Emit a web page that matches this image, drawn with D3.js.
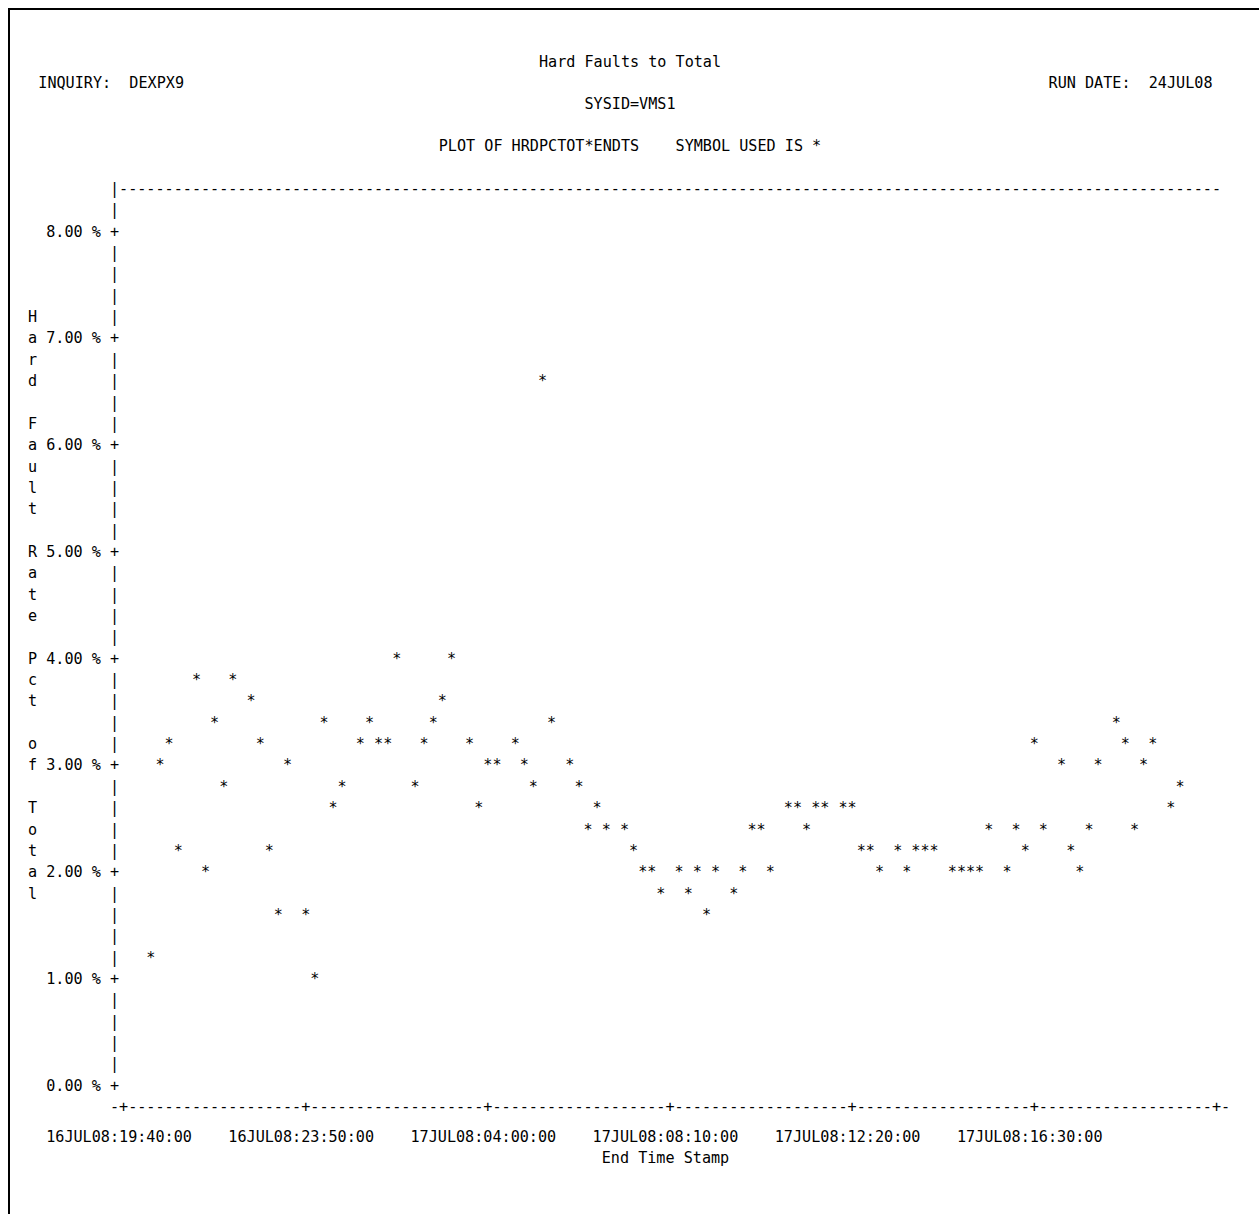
<!DOCTYPE html>
<html><head><meta charset="utf-8">
<script src="https://cdn.jsdelivr.net/npm/d3@7"></script>
<style>
body{margin:0;background:#fff}
text{font-family:"DejaVu Sans Mono",monospace;font-size:15.13px;fill:#000}
</style>
</head><body>
<svg id="c" width="1259" height="1214"></svg>
<script>
// ---- text ----
const chartTitle = "Hard Faults to Total";
const inquiryText = "INQUIRY:  DEXPX9";
const runDateText = "RUN DATE:  24JUL08";
const sysidText = "SYSID=VMS1";
const plotText = "PLOT OF HRDPCTOT*ENDTS    SYMBOL USED IS *";
const yAxisTitle = "Hard Fault Rate Pct of Total";
const xAxisTitle = "End Time Stamp";
const plotSymbol = "*";

// ---- axes ----
const xTickLabels = ["16JUL08:19:40:00","16JUL08:23:50:00","17JUL08:04:00:00","17JUL08:08:10:00","17JUL08:12:20:00","17JUL08:16:30:00"];
const xAxisEnd = "17JUL08:20:40:00";
const yTickValues = [0,1,2,3,4,5,6,7,8];
const yTickLabels = ["0.00 %","1.00 %","2.00 %","3.00 %","4.00 %","5.00 %","6.00 %","7.00 %","8.00 %"];

// ---- data: HRDPCTOT by ENDTS ----
const endTimes = [
"16JUL08:20:17:30","16JUL08:20:30:00","16JUL08:20:42:30","16JUL08:20:55:00","16JUL08:21:20:00",
"16JUL08:21:32:30","16JUL08:21:45:00","16JUL08:21:57:30","16JUL08:22:10:00","16JUL08:22:35:00",
"16JUL08:22:47:30","16JUL08:23:00:00","16JUL08:23:12:30","16JUL08:23:25:00","16JUL08:23:50:00",
"17JUL08:00:02:30","17JUL08:00:15:00","17JUL08:00:27:30","17JUL08:00:40:00","17JUL08:01:05:00",
"17JUL08:01:17:30","17JUL08:01:30:00","17JUL08:01:42:30","17JUL08:01:55:00","17JUL08:02:20:00",
"17JUL08:02:32:30","17JUL08:02:45:00","17JUL08:02:57:30","17JUL08:03:10:00","17JUL08:03:35:00",
"17JUL08:03:47:30","17JUL08:04:00:00","17JUL08:04:12:30","17JUL08:04:37:30","17JUL08:04:50:00",
"17JUL08:05:02:30","17JUL08:05:15:00","17JUL08:05:27:30","17JUL08:05:52:30","17JUL08:06:05:00",
"17JUL08:06:17:30","17JUL08:06:30:00","17JUL08:06:42:30","17JUL08:07:07:30","17JUL08:07:20:00",
"17JUL08:07:32:30","17JUL08:07:45:00","17JUL08:07:57:30","17JUL08:08:22:30","17JUL08:08:35:00",
"17JUL08:08:47:30","17JUL08:09:00:00","17JUL08:09:12:30","17JUL08:09:37:30","17JUL08:09:50:00",
"17JUL08:10:02:30","17JUL08:10:15:00","17JUL08:10:27:30","17JUL08:10:52:30","17JUL08:11:05:00",
"17JUL08:11:17:30","17JUL08:11:30:00","17JUL08:11:42:30","17JUL08:12:07:30","17JUL08:12:20:00",
"17JUL08:12:32:30","17JUL08:12:45:00","17JUL08:12:57:30","17JUL08:13:22:30","17JUL08:13:35:00",
"17JUL08:13:47:30","17JUL08:14:00:00","17JUL08:14:12:30","17JUL08:14:37:30","17JUL08:14:50:00",
"17JUL08:15:02:30","17JUL08:15:15:00","17JUL08:15:27:30","17JUL08:15:52:30","17JUL08:16:05:00",
"17JUL08:16:17:30","17JUL08:16:30:00","17JUL08:16:42:30","17JUL08:17:07:30","17JUL08:17:20:00",
"17JUL08:17:32:30","17JUL08:17:45:00","17JUL08:17:57:30","17JUL08:18:22:30","17JUL08:18:35:00",
"17JUL08:18:47:30","17JUL08:19:00:00","17JUL08:19:12:30","17JUL08:19:37:30","17JUL08:19:50:00"
];
const hardPct = [
1.2,3.0,3.2,2.2,3.8, 2.0,3.4,2.8,3.8,3.6, 3.2,2.2,1.6,3.0,1.6,
1.0,3.4,2.6,2.8,3.2, 3.4,3.2,3.2,4.0,2.8, 3.2,3.4,3.6,4.0,3.2,
2.6,3.0,3.0,3.2,3.0, 2.8,6.6,3.4,3.0,2.8, 2.4,2.6,2.4,2.4,2.2,
2.0,2.0,1.8,2.0,1.8, 2.0,1.6,2.0,1.8,2.0, 2.4,2.4,2.0,2.6,2.6,
2.4,2.6,2.6,2.6,2.6, 2.2,2.2,2.0,2.2,2.0, 2.2,2.2,2.2,2.0,2.0,
2.0,2.0,2.4,2.0,2.4, 2.2,3.2,2.4,3.0,2.2, 2.0,2.4,3.0,3.4,3.2,
2.4,3.0,3.2,2.6,2.8
];

// ---- layout (line-printer grid) ----
const CW = 9.107;          // character column width
const RH = 21.35;          // text row height
const X0 = 123.6;          // centre of first plot column
const NCOL = 120;          // plot columns
const ROW8 = 236.7;        // baseline of top tick row
const ROW0 = ROW8 + 40 * RH;
const TOP_ROW = ROW8 - 2 * RH;
const XAXIS_ROW = ROW0 + RH;
const XLAB_ROW = 1141.5;
const XTITLE_ROW = XLAB_ROW + RH;

const parse = d3.timeParse("%d%b%y:%H:%M:%S");
const svg = d3.select("#c");

svg.append("path").attr("d","M9,1214V9H1259").attr("fill","none").attr("stroke","#000").attr("stroke-width",2);

const x = d3.scaleTime().domain([parse(xTickLabels[0]), parse(xAxisEnd)]).range([X0, X0 + NCOL * CW]);
const y = d3.scaleLinear().domain([0, 8]).range([ROW0, ROW8]);
const colOf = px => Math.round((px - X0) / CW);
const cx = c => X0 + c * CW;
const rowOf = py => Math.round((py - ROW8) / RH);
const ry = r => ROW8 + r * RH;

function ch(c, yy, s){ svg.append("text").attr("x", cx(c)).attr("y", yy).attr("text-anchor","middle").text(s); }

// header
svg.append("text").attr("x",630).attr("y",66.7).attr("text-anchor","middle").text(chartTitle);
svg.append("text").attr("x",38.3).attr("y",87.7).text(inquiryText).attr("xml:space","preserve").style("white-space","pre");
svg.append("text").attr("x",1212.5).attr("y",87.7).attr("text-anchor","end").style("white-space","pre").text(runDateText);
svg.append("text").attr("x",630).attr("y",108.5).attr("text-anchor","middle").text(sysidText);
svg.append("text").attr("x",630).attr("y",151).attr("text-anchor","middle").style("white-space","pre").text(plotText);

// vertical axis
const tickRows = new Set(yTickValues.map(v => rowOf(y(v))));
for (let r = -2; r <= 40; r++) ch(-1, ry(r), tickRows.has(r) ? "+" : "|");
// top frame line
for (let c = 0; c <= NCOL; c++) ch(c, TOP_ROW, "-");
// y tick labels
yTickValues.forEach((v, i) => {
  svg.append("text").attr("x", cx(-2.5)).attr("y", ry(rowOf(y(v)))).attr("text-anchor","end")
     .style("white-space","pre").text(yTickLabels[i]);
});
// y axis title (vertical, one letter per row)
const yTitleStart = rowOf(y(7.2));
yAxisTitle.split("").forEach((s, i) => { if (s !== " ") ch(-10, ry(yTitleStart + i), s); });

// horizontal axis
const tickCols = new Set(xTickLabels.concat([xAxisEnd]).map(t => colOf(x(parse(t)))));
for (let c = -1; c <= NCOL + 1; c++) ch(c, XAXIS_ROW, tickCols.has(c) ? "+" : "-");
xTickLabels.forEach(t => {
  const c = colOf(x(parse(t)));
  svg.append("text").attr("x", cx(c) - CW/2).attr("y", XLAB_ROW).attr("text-anchor","middle").text(t);
});
svg.append("text").attr("x", cx(59.5)).attr("y", XTITLE_ROW).attr("text-anchor","middle").text(xAxisTitle);

// points
endTimes.forEach((t, i) => {
  const c = colOf(x(parse(t)));
  const r = rowOf(y(hardPct[i]));
  ch(c, ry(r), plotSymbol);
});
</script>
</body></html>
